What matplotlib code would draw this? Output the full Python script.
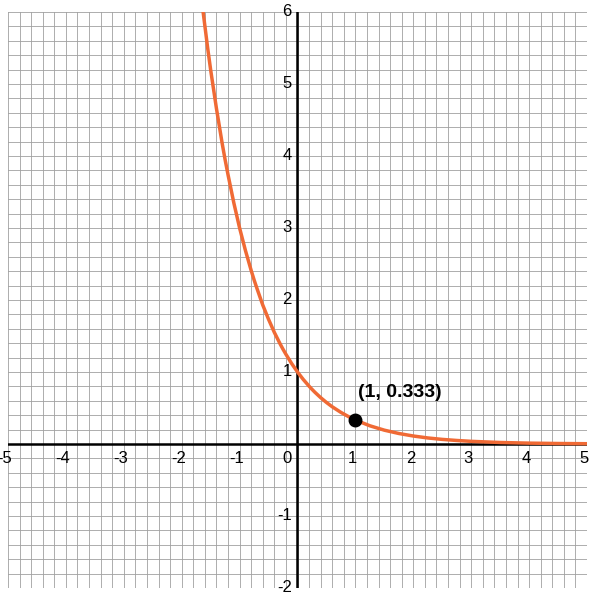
import matplotlib
matplotlib.use("Agg")
import matplotlib.pyplot as plt
import numpy as np
plt.rcParams['font.family'] = ['Liberation Sans', 'DejaVu Sans']

curve_x = [-1.63,-1.55,-1.5,-1.4,-1.3,-1.25,-1.2,-1.1,-1.0,-0.9,-0.8,-0.75,-0.7,-0.6,-0.5,-0.4,-0.3,-0.25,-0.2,-0.1,0.0,
           0.1,0.2,0.25,0.3,0.4,0.5,0.6,0.75,0.9,1.0,1.25,1.5,1.75,2.0,2.25,2.5,2.75,3.0,3.5,4.0,4.5,5.0]
curve_y = [6.0,5.49,5.196,4.66,4.17,3.948,3.74,3.35,3.0,2.69,2.41,2.280,2.16,1.93,1.732,1.55,1.39,1.316,1.246,1.116,1.0,
           0.896,0.803,0.760,0.719,0.644,0.577,0.517,0.439,0.372,0.333,0.253,0.192,0.146,0.111,0.084,0.064,0.049,0.037,0.021,0.012,0.007,0.004]
point = (1, 0.333)
point_label = "(1, 0.333)"
xticks = [-5,-4,-3,-2,-1,1,2,3,4,5]
yticks = [-2,-1,1,2,3,4,5,6]

fig = plt.figure(figsize=(5.95,6.03), dpi=100)
ax = fig.add_axes([8/595, 15/603, 579/595, 576/603])
ax.set_xlim(-5,5); ax.set_ylim(-2,6)
ax.set_xticks(np.arange(-5,5.01,0.2))
ax.set_yticks(np.arange(-2,6.01,0.2))
ax.grid(True, color='#a0a0a0', lw=0.6)
ax.tick_params(length=0, labelbottom=False, labelleft=False)
for s in ax.spines.values(): s.set_visible(False)
ax.axhline(0, color='black', lw=1.8)
ax.axvline(0, color='black', lw=1.8)
ax.plot(curve_x, curve_y, color='#f06a35', lw=2.5, zorder=3)
ax.plot(*point, 'o', color='black', ms=9, zorder=4)
ax.text(point[0]+0.05, point[1]+0.38, point_label, fontsize=14, fontweight='bold', va='center', ha='left')
for t in xticks:
    ax.text(t-0.05, -0.1, str(t), ha='center', va='top', fontsize=12, clip_on=False)
for t in yticks:
    ax.text(-0.1, t, str(t), ha='right', va='center', fontsize=12)
ax.text(-0.1, -0.1, "0", ha='right', va='top', fontsize=12)
fig.savefig("out.png", dpi=100)
